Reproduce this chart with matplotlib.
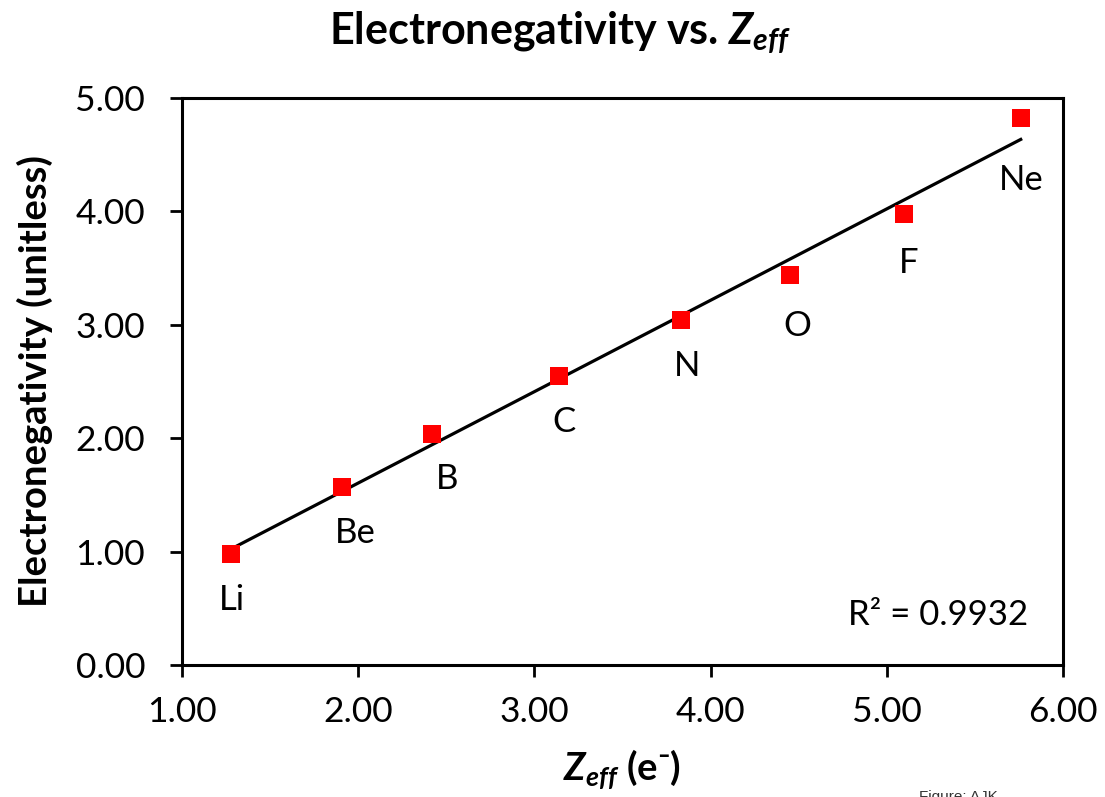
import numpy as np
import matplotlib.pyplot as plt

# data
elements = ['Li', 'Be', 'B', 'C', 'N', 'O', 'F', 'Ne']
zeff = [1.28, 1.91, 2.42, 3.14, 3.83, 4.45, 5.10, 5.76]
electroneg = [0.98, 1.57, 2.04, 2.55, 3.04, 3.44, 3.98, 4.82]
r2_label = 'R\u00b2 = 0.9932'

# label nudges (points) below each marker
label_dx = [0.7, 9.4, 10.8, 3.6, 4.3, 5.0, 3.3, 0.7]
label_dy = [-33, -33, -32.5, -33, -33, -36.7, -35.3, -44.6]

plt.rcParams['font.family'] = ['Lato', 'DejaVu Sans']
plt.rcParams['mathtext.fontset'] = 'custom'
plt.rcParams['mathtext.it'] = 'Lato:bold:italic'
plt.rcParams['mathtext.rm'] = 'Lato:bold'

fig = plt.figure(figsize=(11.05, 7.97), dpi=100)
ax = fig.add_axes([0.1647, 0.1656, 0.7973, 0.7114])

# linear trendline across the data range
slope, intercept = np.polyfit(zeff, electroneg, 1)
xs = np.array([min(zeff), max(zeff)])
ax.plot(xs, slope * xs + intercept, color='black', lw=2.3, zorder=2)

ax.scatter(zeff, electroneg, marker='s', s=150, color='#ff0000', zorder=3, linewidths=0)

for name, x, y, dx, dy in zip(elements, zeff, electroneg, label_dx, label_dy):
    ax.annotate(name, (x, y), xytext=(dx, dy), textcoords='offset points',
                ha='center', va='center', fontsize=25)

ax.text(0.96, 0.088, r2_label, transform=ax.transAxes, ha='right', va='center', fontsize=25)

ax.set_xlim(1, 6)
ax.set_ylim(0, 5)
ax.set_xticks(np.arange(1, 6.5, 1))
ax.set_yticks(np.arange(0, 5.5, 1))
ax.set_xticklabels(['%.2f' % v for v in ax.get_xticks()])
ax.set_yticklabels(['%.2f' % v for v in ax.get_yticks()])
ax.tick_params(labelsize=25.5, width=2, length=8.5, direction='out')
ax.tick_params(axis='x', pad=14)
ax.tick_params(axis='y', pad=18)
for sp in ax.spines.values():
    sp.set_linewidth(2.2)

ax.set_ylabel('Electronegativity (unitless)', fontsize=27.5, fontweight='bold', labelpad=16)
ax.set_xlabel('$Z_{eff}$ (e\u207b)', fontsize=27.5, fontweight='bold', labelpad=14)
fig.suptitle('Electronegativity vs. $Z_{eff}$', x=0.507, y=0.988, va='top',
             fontsize=31, fontweight='bold')

fig.text(0.832, 0.009, 'Figure: AJK', fontsize=11, color='#333333',
         family='Liberation Sans', ha='left', va='top')

plt.savefig('out.png', dpi=100)
